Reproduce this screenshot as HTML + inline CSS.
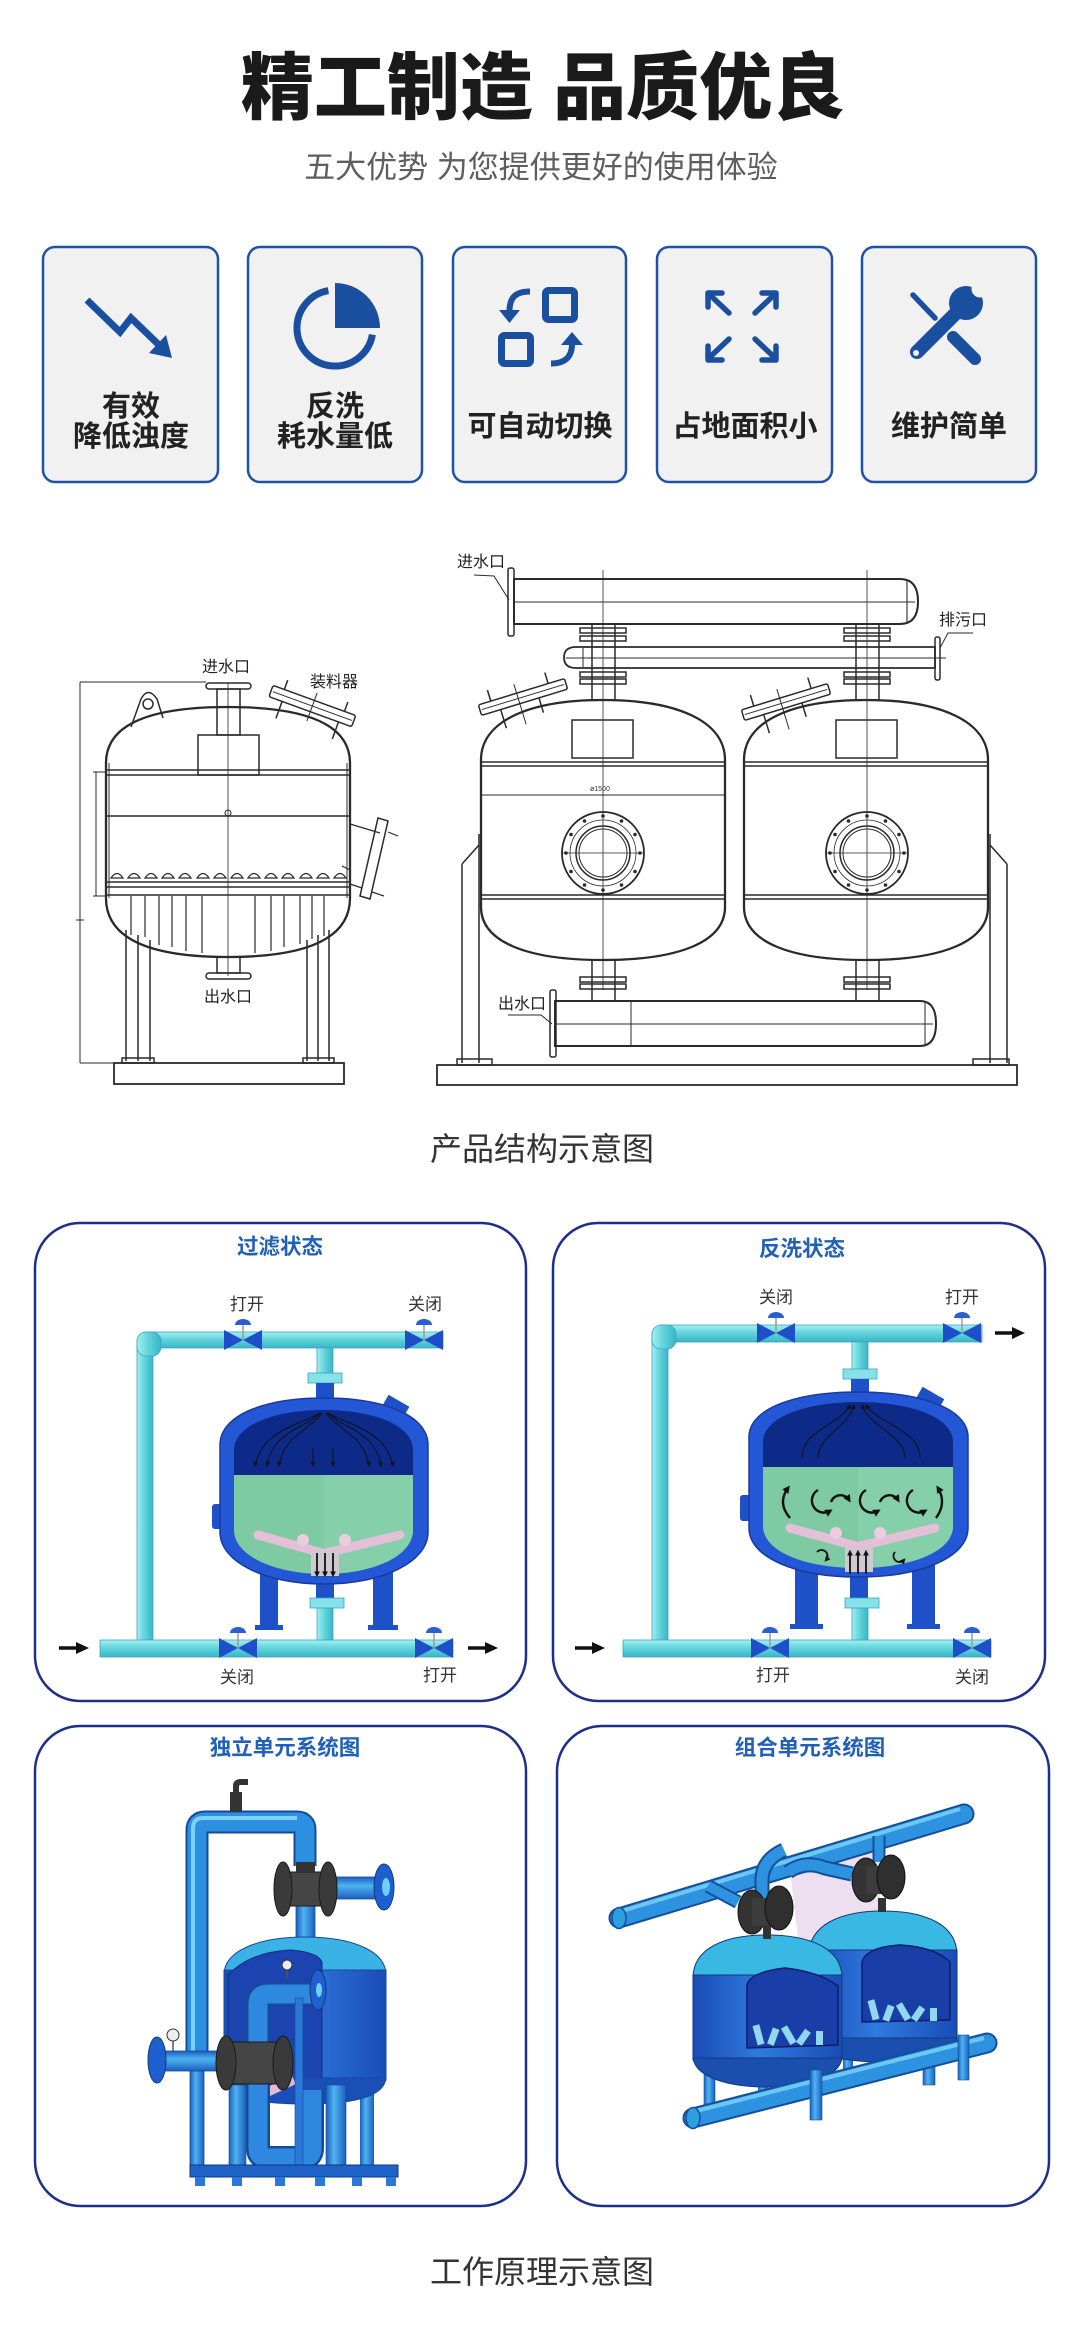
<!DOCTYPE html>
<html><head><meta charset="utf-8">
<style>
html,body{margin:0;padding:0;background:#fff;}
body{width:1080px;height:2347px;overflow:hidden;}
svg{display:block;}
</style></head>
<body>
<svg width="1080" height="2347" viewBox="0 0 1080 2347" xmlns="http://www.w3.org/2000/svg" font-family="'Liberation Sans','Noto Sans CJK SC',sans-serif">
<defs>
<linearGradient id="tqH" x1="0" y1="0" x2="0" y2="1"><stop offset="0" stop-color="#a6f0f2"/><stop offset="0.45" stop-color="#63d5dc"/><stop offset="1" stop-color="#3ab4c6"/></linearGradient>
<linearGradient id="tqV" x1="0" y1="0" x2="1" y2="0"><stop offset="0" stop-color="#a6f0f2"/><stop offset="0.45" stop-color="#63d5dc"/><stop offset="1" stop-color="#3ab4c6"/></linearGradient>
<linearGradient id="bpV" x1="0" y1="0" x2="1" y2="0"><stop offset="0" stop-color="#1a5fc0"/><stop offset="0.4" stop-color="#4fb3ef"/><stop offset="1" stop-color="#1a5fc0"/></linearGradient>
<linearGradient id="bpH" x1="0" y1="0" x2="0" y2="1"><stop offset="0" stop-color="#1a5fc0"/><stop offset="0.4" stop-color="#4fb3ef"/><stop offset="1" stop-color="#1a5fc0"/></linearGradient>
<linearGradient id="tank" x1="0" y1="0" x2="1" y2="0"><stop offset="0" stop-color="#1a4cb8"/><stop offset="0.45" stop-color="#2f7ade"/><stop offset="1" stop-color="#1a4cb8"/></linearGradient>
<marker id="ah" viewBox="0 0 10 10" refX="8" refY="5" markerWidth="5" markerHeight="5" orient="auto"><path d="M0,0 L10,5 L0,10 Z" fill="#111"/></marker>
<marker id="ah2" viewBox="0 0 10 10" refX="6" refY="5" markerWidth="3.2" markerHeight="3.2" orient="auto"><path d="M0,0 L10,5 L0,10 Z" fill="#111"/></marker>
</defs>

<!-- ===== Header ===== -->
<text x="543" y="113" text-anchor="middle" font-size="73" font-weight="900" fill="#1a1a1a">精工制造 品质优良</text>
<text x="541" y="178" text-anchor="middle" font-size="31" fill="#5e5e5e">五大优势 为您提供更好的使用体验</text>

<!-- ===== Feature cards ===== -->
<g fill="#f1f1f1" stroke="#1f52a6" stroke-width="2.5">
<rect x="43" y="247" width="175" height="235" rx="12"/>
<rect x="248" y="247" width="174" height="235" rx="12"/>
<rect x="453" y="247" width="173" height="235" rx="12"/>
<rect x="657" y="247" width="175" height="235" rx="12"/>
<rect x="862" y="247" width="174" height="235" rx="12"/>
</g>
<!-- icon 1 -->
<polyline points="87,300 120,332 131,318 158,344" fill="none" stroke="#1a4fa0" stroke-width="7"/>
<polygon points="172,358 149,353 166,335" fill="#1a4fa0"/>
<!-- icon 2 -->
<path d="M335,328 L335,283 A45,45 0 0 1 380,328 Z" fill="#1a4fa0"/>
<path d="M328.4,290.6 A38,38 0 1 0 372.4,334.6" fill="none" stroke="#1a4fa0" stroke-width="7"/>
<!-- icon 3 -->
<rect x="545.5" y="290.5" width="29" height="29" rx="3" fill="none" stroke="#1a4fa0" stroke-width="7"/>
<rect x="501.5" y="335.5" width="29" height="28" rx="3" fill="none" stroke="#1a4fa0" stroke-width="7"/>
<path d="M530,291.5 C515,291.5 509.5,298 509.5,311" fill="none" stroke="#1a4fa0" stroke-width="6"/>
<polygon points="499,310 520,310 509.5,323" fill="#1a4fa0"/>
<path d="M551,363.5 C566,363.5 572,356 572,344" fill="none" stroke="#1a4fa0" stroke-width="6"/>
<polygon points="561,345 583,345 572,332" fill="#1a4fa0"/>
<!-- icon 4 -->
<g fill="none" stroke="#1a4fa0" stroke-width="5.5" stroke-linecap="round" stroke-linejoin="round">
<path d="M729,313 L711,296 M708,307 L708,293 L722,293"/>
<path d="M755,313 L773,296 M762,293 L776,293 L776,307"/>
<path d="M729,339 L711,356 M708,346 L708,360 L722,360"/>
<path d="M755,339 L773,356 M776,346 L776,360 L762,360"/>
</g>
<!-- icon 5 -->
<g stroke="#1a4fa0" stroke-linecap="round">
<line x1="913" y1="295" x2="935" y2="318" stroke-width="5.5"/>
<line x1="953" y1="337" x2="975" y2="359" stroke-width="12"/>
<line x1="962" y1="307" x2="917" y2="352" stroke-width="14"/>
</g>
<circle cx="966" cy="303" r="17" fill="#1a4fa0"/>
<circle cx="980" cy="289" r="8.5" fill="#f1f1f1"/>
<polygon points="975,282 988,269 997,280 984,294" fill="#f1f1f1"/>
<circle cx="916" cy="353" r="3" fill="#f1f1f1"/>

<g font-size="29" font-weight="700" fill="#222" text-anchor="middle">
<text x="131" y="416">有效</text>
<text x="131" y="446">降低浊度</text>
<text x="335" y="416">反洗</text>
<text x="335" y="446">耗水量低</text>
<text x="540" y="436">可自动切换</text>
<text x="745" y="436">占地面积小</text>
<text x="949" y="436">维护简单</text>
</g>

<!-- ===== Technical drawings ===== -->
<g fill="none" stroke="#2a2a2a" stroke-width="1.5">
<path d="M80,682 L80,1063 M80,682 L206,682 M80,1063 L114,1063 M76,920 L84,920" stroke-width="1"/>
<path d="M96,772 L96,896 M93,772 L106,772 M93,896 L106,896" stroke-width="1"/>
<path d="M106,898 L106,763 Q106,707 228,707 Q350,707 350,763 L350,898 Q350,957 228,957 Q106,957 106,898 Z" stroke-width="2.3"/>
<path d="M109,763 L109,898 M347,763 L347,898" stroke-width="1"/>
<path d="M106,770 H350 M106,775 H350 M106,816 H350 M106,882 H350 M106,887 H350 M106,895 H350"/>
<line x1="228" y1="683" x2="228" y2="976" stroke-width="0.8"/>
<circle cx="228" cy="813" r="3" stroke-width="1"/>
<rect x="217" y="689" width="23" height="46"/>
<rect x="206" y="683" width="45" height="6" rx="3"/>
<rect x="198" y="735" width="61" height="40"/>
<path d="M131,727 L141,699 Q148,686 157,699 L163,718"/>
<circle cx="148" cy="704" r="5"/>
<g transform="rotate(20 312 707)">
<rect x="268" y="700" width="88" height="12" rx="2"/>
<line x1="270" y1="706" x2="354" y2="706" stroke-width="1"/>
<line x1="282" y1="712" x2="282" y2="730"/>
<line x1="342" y1="712" x2="342" y2="730"/>
<line x1="280" y1="700" x2="280" y2="690"/>
<line x1="344" y1="700" x2="344" y2="690"/>
<line x1="312" y1="692" x2="312" y2="722" stroke-width="1"/>
</g>
<path d="M378,818 L388,821 L370,899 L360,896 Z"/>
<path d="M350,824 L380,833 M350,884 L362,888 M388,832 L398,836 M372,892 L384,896 M342,866 L350,870" stroke-width="1.2"/>
<path d="M111,878 Q117,869 123,878 Z M128,878 Q134,869 140,878 Z M145,878 Q151,869 157,878 Z M162,878 Q168,869 174,878 Z M179,878 Q185,869 191,878 Z M197,878 Q203,869 209,878 Z M214,878 Q220,869 226,878 Z M231,878 Q237,869 243,878 Z M248,878 Q254,869 260,878 Z M265,878 Q271,869 277,878 Z M282,878 Q288,869 294,878 Z M300,878 Q306,869 312,878 Z M317,878 Q323,869 329,878 Z M334,878 Q340,869 346,878 Z" stroke-width="1.2"/>
<path d="M131,896 V935 M145,896 V937 M159,896 V945 M172,896 V947 M186,896 V951 M202,896 V953 M255,896 V953 M271,896 V951 M284,896 V947 M300,896 V944 M312,896 V939 M324,896 V936" stroke-width="1.2"/>
<path d="M126,930 V1061 M138,935 V1061 M150,940 V1061 M307,940 V1061 M318,935 V1061 M329,930 V1061"/>
<rect x="122" y="1058" width="32" height="5"/>
<rect x="303" y="1058" width="31" height="5"/>
<rect x="114" y="1063" width="230" height="21" stroke-width="1.8"/>
<rect x="217" y="957" width="23" height="16"/>
<rect x="206" y="973" width="45" height="6" rx="3"/>

<path d="M514,579 L900,579 Q918,579 918,601.5 Q918,624 900,624 L514,624 Z" stroke-width="2"/>
<path d="M514,602 H915 M907,580 V623" stroke-width="1.1"/>
<rect x="508" y="568" width="6" height="68" rx="2"/>
<path d="M474,575 L494,576 L509,600" stroke-width="1"/>
<path d="M576,647 L935,647 L935,668 L576,668 Q564,668 564,657.5 Q564,647 576,647 Z" stroke-width="1.8"/>
<path d="M566,658 H946 M583,648 V667" stroke-width="1"/>
<rect x="935" y="637" width="5" height="43" rx="2"/>
<path d="M940,648 L948,633 L973,633" stroke-width="1"/>
<rect x="592" y="624" width="23" height="76"/>
<rect x="856" y="624" width="23" height="76"/>
<path d="M580,628 h46 v5 h-46 z M580,636 h46 v5 h-46 z M580,672 h46 v5 h-46 z M580,679 h46 v5 h-46 z"/>
<path d="M844,628 h46 v5 h-46 z M844,636 h46 v5 h-46 z M844,672 h46 v5 h-46 z M844,679 h46 v5 h-46 z"/>
<path d="M603,570 V990 M867,570 V990" stroke-width="0.8"/>
<path d="M481,907 L481,760 C481,722 527,700 603,700 C679,700 725,722 725,760 L725,907 C725,942 679,960 603,960 C527,960 481,942 481,907 Z" stroke-width="2.3"/>
<path d="M744,907 L744,760 C744,722 790,700 866,700 C942,700 988,722 988,760 L988,907 C988,942 942,960 866,960 C790,960 744,942 744,907 Z" stroke-width="2.3"/>
<path d="M481,762 H725 M481,766 H725 M481,895 H725 M481,899 H725 M744,762 H988 M744,766 H988 M744,895 H988 M744,899 H988"/>
<path d="M481,795 H725" stroke-width="0.9"/>
<rect x="572" y="720" width="61" height="38"/>
<rect x="836" y="720" width="61" height="38"/>
<g transform="translate(603 853)">
<circle r="41" stroke-width="1.8"/><circle r="33" stroke-width="0.8"/><circle r="27"/><circle r="24" stroke-width="1"/>
<path d="M-41,0 H41" stroke-width="0.8"/>
<g fill="#2a2a2a" stroke="none"><circle cx="37" cy="0" r="1.8"/><circle cx="32" cy="18.5" r="1.8"/><circle cx="18.5" cy="32" r="1.8"/><circle cx="0" cy="37" r="1.8"/><circle cx="-18.5" cy="32" r="1.8"/><circle cx="-32" cy="18.5" r="1.8"/><circle cx="-37" cy="0" r="1.8"/><circle cx="-32" cy="-18.5" r="1.8"/><circle cx="-18.5" cy="-32" r="1.8"/><circle cx="0" cy="-37" r="1.8"/><circle cx="18.5" cy="-32" r="1.8"/><circle cx="32" cy="-18.5" r="1.8"/></g>
</g>
<g transform="translate(867 853)">
<circle r="41" stroke-width="1.8"/><circle r="33" stroke-width="0.8"/><circle r="27"/><circle r="24" stroke-width="1"/>
<path d="M-41,0 H41" stroke-width="0.8"/>
<g fill="#2a2a2a" stroke="none"><circle cx="37" cy="0" r="1.8"/><circle cx="32" cy="18.5" r="1.8"/><circle cx="18.5" cy="32" r="1.8"/><circle cx="0" cy="37" r="1.8"/><circle cx="-18.5" cy="32" r="1.8"/><circle cx="-32" cy="18.5" r="1.8"/><circle cx="-37" cy="0" r="1.8"/><circle cx="-32" cy="-18.5" r="1.8"/><circle cx="-18.5" cy="-32" r="1.8"/><circle cx="0" cy="-37" r="1.8"/><circle cx="18.5" cy="-32" r="1.8"/><circle cx="32" cy="-18.5" r="1.8"/></g>
</g>
<g transform="rotate(-17 523 697)">
<rect x="478" y="691.5" width="90" height="11" rx="2"/>
<line x1="480" y1="697" x2="566" y2="697" stroke-width="1"/>
<line x1="498" y1="702.5" x2="498" y2="722"/>
<line x1="538" y1="702.5" x2="538" y2="718"/>
<line x1="491" y1="691.5" x2="491" y2="680"/>
<line x1="551" y1="691.5" x2="551" y2="680"/>
<line x1="518" y1="682" x2="518" y2="724" stroke-width="1"/>
</g>
<g transform="rotate(-17 786 702)">
<rect x="741" y="696.5" width="90" height="11" rx="2"/>
<line x1="743" y1="702" x2="829" y2="702" stroke-width="1"/>
<line x1="761" y1="707.5" x2="761" y2="727"/>
<line x1="801" y1="707.5" x2="801" y2="722"/>
<line x1="754" y1="696.5" x2="754" y2="685"/>
<line x1="814" y1="696.5" x2="814" y2="685"/>
<line x1="781" y1="687" x2="781" y2="729" stroke-width="1"/>
</g>
<rect x="592" y="960" width="23" height="41"/>
<rect x="856" y="960" width="23" height="41"/>
<path d="M580,977 h46 v5 h-46 z M580,984 h46 v5 h-46 z M844,977 h46 v5 h-46 z M844,984 h46 v5 h-46 z"/>
<path d="M555,1001 L920,1001 Q936,1001 936,1023.5 Q936,1046 920,1046 L555,1046 Z" stroke-width="2"/>
<path d="M555,1024 H933 M631,1001 V1046 M925,1002 V1045" stroke-width="1"/>
<rect x="550" y="990" width="6" height="67" rx="2"/>
<path d="M508,1015 L541,1015 L552,1024" stroke-width="1"/>
<path d="M479,834 V1063 M462,864 V1063 M462,864 L479,845 M990,834 V1063 M1007,864 V1063 M1007,864 L990,845"/>
<rect x="457" y="1059" width="35" height="6"/>
<rect x="973" y="1059" width="36" height="6"/>
<rect x="437" y="1065" width="580" height="20" stroke-width="1.8"/>
</g>
<text x="590" y="791" font-size="7" fill="#333">ø1500</text>
<g font-size="16" fill="#222" text-anchor="middle">
<text x="226" y="672">进水口</text>
<text x="334" y="687">装料器</text>
<text x="228" y="1002">出水口</text>
<text x="481" y="567">进水口</text>
<text x="963" y="625">排污口</text>
<text x="522" y="1009">出水口</text>
</g>
<text x="542" y="1160" text-anchor="middle" font-size="32" fill="#333">产品结构示意图</text>

<!-- ===== Bottom cards ===== -->
<g fill="#fff" stroke="#1c2f8c" stroke-width="2.5">
<rect x="35" y="1223" width="491" height="478" rx="45"/>
<rect x="553" y="1223" width="492" height="478" rx="45"/>
<rect x="35" y="1726" width="491" height="480" rx="45"/>
<rect x="557" y="1726" width="492" height="480" rx="45"/>
</g>
<g font-size="21.5" font-weight="700" fill="#2060b8" text-anchor="middle">
<text x="280" y="1254">过滤状态</text>
<text x="802" y="1256">反洗状态</text>
<text x="285" y="1755">独立单元系统图</text>
<text x="810" y="1755">组合单元系统图</text>
</g>

<!-- Card 1 -->
<g stroke="#3aa6c2" stroke-width="0.8">
<rect x="137" y="1340" width="16" height="308" fill="url(#tqV)"/>
<rect x="145" y="1332" width="298" height="16" fill="url(#tqH)"/>
<rect x="137" y="1332" width="24" height="24" rx="9" fill="url(#tqV)"/>
<rect x="317" y="1348" width="16" height="28" fill="url(#tqV)"/>
<rect x="308" y="1373" width="34" height="10" fill="#86e2e6"/>
<rect x="100" y="1640" width="353" height="17" fill="url(#tqH)"/>
<rect x="317" y="1608" width="16" height="32" fill="url(#tqV)"/>
</g>
<g fill="#1e50c8">
<rect x="316" y="1383" width="18" height="20"/>
<rect x="260" y="1570" width="18" height="58"/><rect x="255" y="1625" width="28" height="5"/>
<rect x="373" y="1570" width="20" height="58"/><rect x="368" y="1625" width="30" height="5"/>
<rect x="316" y="1580" width="18" height="20"/>
<rect x="212" y="1504" width="11" height="25" rx="3"/>
<rect x="384" y="1400" width="24" height="12" transform="rotate(30 396 1406)"/>
</g>
<rect x="310" y="1598" width="34" height="10" fill="#86e2e6" stroke="#3aa6c2" stroke-width="0.8"/>
<path d="M220,1445 C220,1415 265,1398 324,1398 C383,1398 428,1415 428,1445 L428,1532 C428,1562 383,1584 324,1584 C265,1584 220,1562 220,1532 Z" fill="#2457d6" stroke="#1a3a9e" stroke-width="1.5"/>
<path d="M234,1475 L234,1450 C234,1425 275,1410 324,1410 C373,1410 413,1425 413,1450 L413,1475 Z" fill="#0e2a88"/>
<path d="M234,1475 L413,1475 L413,1530 C413,1556 373,1574 324,1574 C275,1574 234,1556 234,1530 Z" fill="#7dcaa3"/>
<path d="M324,1475 L413,1475 L413,1530 C413,1556 373,1574 324,1574 Z" fill="#86cfab"/>
<g fill="none" stroke="#111" stroke-width="1" marker-end="url(#ah)">
<path d="M320,1413 C300,1425 262,1430 255,1466"/>
<path d="M321,1413 C305,1428 272,1432 267,1466"/>
<path d="M322,1413 C310,1430 283,1436 279,1466"/>
<path d="M328,1413 C348,1425 386,1430 393,1466"/>
<path d="M327,1413 C343,1428 376,1432 381,1466"/>
<path d="M326,1413 C338,1430 365,1436 369,1466"/>
<path d="M313,1448 L313,1466"/>
<path d="M333,1448 L333,1466"/>
</g>
<g stroke="#e3c0d8" stroke-width="9" stroke-linecap="round">
<line x1="322" y1="1553" x2="258" y2="1535"/>
<line x1="326" y1="1553" x2="400" y2="1535"/>
</g>
<circle cx="303" cy="1540" r="6" fill="#ecccdf"/><circle cx="345" cy="1540" r="6" fill="#ecccdf"/>
<rect x="311" y="1550" width="28" height="26" fill="#cfc9d2"/>
<g fill="none" stroke="#111" stroke-width="1.8" marker-end="url(#ah2)">
<path d="M317,1553 V1575"/><path d="M325,1553 V1575"/><path d="M333,1553 V1575"/>
</g>

<!-- Card 2 -->
<g stroke="#3aa6c2" stroke-width="0.8">
<rect x="652" y="1333" width="16" height="315" fill="url(#tqV)"/>
<rect x="660" y="1325" width="322" height="17" fill="url(#tqH)"/>
<rect x="652" y="1325" width="24" height="24" rx="9" fill="url(#tqV)"/>
<rect x="852" y="1342" width="16" height="28" fill="url(#tqV)"/>
<rect x="843" y="1369" width="34" height="10" fill="#86e2e6"/>
<rect x="623" y="1640" width="368" height="17" fill="url(#tqH)"/>
<rect x="852" y="1608" width="16" height="32" fill="url(#tqV)"/>
</g>
<g fill="#1e50c8">
<rect x="851" y="1379" width="18" height="16"/>
<rect x="795" y="1565" width="23" height="61"/><rect x="790" y="1624" width="33" height="5"/>
<rect x="912" y="1565" width="23" height="61"/><rect x="907" y="1624" width="33" height="5"/>
<rect x="850" y="1577" width="18" height="21"/>
<rect x="740" y="1495" width="11" height="26" rx="3"/>
<rect x="918" y="1392" width="25" height="12" transform="rotate(30 930 1398)"/>
</g>
<rect x="845" y="1598" width="34" height="10" fill="#86e2e6" stroke="#3aa6c2" stroke-width="0.8"/>
<path d="M749,1437 C749,1408 797,1392 858,1392 C919,1392 968,1408 968,1437 L968,1528 C968,1558 919,1577 858,1577 C797,1577 749,1558 749,1528 Z" fill="#2457d6" stroke="#1a3a9e" stroke-width="1.5"/>
<path d="M763,1467 L763,1442 C763,1417 806,1402 858,1402 C910,1402 953,1417 953,1442 L953,1467 Z" fill="#0e2a88"/>
<path d="M763,1467 L953,1467 L953,1526 C953,1552 910,1568 858,1568 C806,1568 763,1552 763,1526 Z" fill="#7dcaa3"/>
<path d="M858,1467 L953,1467 L953,1526 C953,1552 910,1568 858,1568 Z" fill="#86cfab"/>
<g fill="none" stroke="#111" stroke-width="1" marker-end="url(#ah)">
<path d="M802,1458 C802,1430 840,1425 850,1405"/>
<path d="M818,1458 C818,1435 848,1428 854,1405"/>
<path d="M920,1458 C920,1430 880,1425 866,1405"/>
<path d="M905,1458 C905,1435 870,1428 862,1405"/>
</g>
<g stroke="#e3c0d8" stroke-width="9" stroke-linecap="round">
<line x1="856" y1="1546" x2="790" y2="1528"/>
<line x1="860" y1="1546" x2="935" y2="1528"/>
</g>
<circle cx="836" cy="1533" r="6" fill="#ecccdf"/><circle cx="880" cy="1533" r="6" fill="#ecccdf"/>
<rect x="845" y="1548" width="28" height="24" fill="#cfc9d2"/>
<g fill="none" stroke="#111" stroke-width="2.4" marker-end="url(#ah2)">
<path d="M790,1518 Q777,1503 788,1488"/>
<path d="M818,1490 A12,12 0 1 0 830,1511"/>
<path d="M831,1502 A10,10 0 0 1 849,1500"/>
<path d="M866,1490 A12,12 0 1 0 878,1511"/>
<path d="M880,1502 A10,10 0 0 1 898,1500"/>
<path d="M913,1490 A12,12 0 1 0 925,1511"/>
<path d="M936,1518 Q947,1503 938,1488"/>
</g>
<g fill="none" stroke="#111" stroke-width="1.8" marker-end="url(#ah2)">
<path d="M817,1552 A6,6 0 1 1 826,1560"/>
<path d="M895,1552 A6,6 0 1 0 904,1560"/>
<path d="M850,1574 V1552"/><path d="M858,1574 V1552"/><path d="M866,1574 V1552"/>
</g>

<!-- valves -->
<g fill="#1f4fc8">
<path d="M224,1330 L224,1350 L243,1340 Z M262,1330 L262,1350 L243,1340 Z"/>
<path d="M405,1330 L405,1350 L424,1340 Z M443,1330 L443,1350 L424,1340 Z"/>
<path d="M219,1638 L219,1658 L238,1648 Z M257,1638 L257,1658 L238,1648 Z"/>
<path d="M415,1638 L415,1658 L434,1648 Z M453,1638 L453,1658 L434,1648 Z"/>
<path d="M757,1323 L757,1343 L776,1333 Z M795,1323 L795,1343 L776,1333 Z"/>
<path d="M943,1323 L943,1343 L962,1333 Z M981,1323 L981,1343 L962,1333 Z"/>
<path d="M751,1638 L751,1658 L770,1648 Z M789,1638 L789,1658 L770,1648 Z"/>
<path d="M953,1638 L953,1658 L972,1648 Z M991,1638 L991,1658 L972,1648 Z"/>
</g>
<g stroke="#9a9a9a" stroke-width="1.5">
<path d="M243,1340 V1325 M424,1340 V1325 M238,1648 V1633 M434,1648 V1633 M776,1333 V1318 M962,1333 V1318 M770,1648 V1633 M972,1648 V1633"/>
</g>
<g fill="#2a5fd0">
<path d="M235,1325 A8,6 0 0 1 251,1325 Z"/><path d="M416,1325 A8,6 0 0 1 432,1325 Z"/>
<path d="M230,1633 A8,6 0 0 1 246,1633 Z"/><path d="M426,1633 A8,6 0 0 1 442,1633 Z"/>
<path d="M768,1318 A8,6 0 0 1 784,1318 Z"/><path d="M954,1318 A8,6 0 0 1 970,1318 Z"/>
<path d="M762,1633 A8,6 0 0 1 778,1633 Z"/><path d="M964,1633 A8,6 0 0 1 980,1633 Z"/>
</g>
<g stroke="#111" stroke-width="3.5"><path d="M59,1648 H78 M468,1648 H487 M575,1648 H594 M995,1333 H1014"/></g>
<g fill="#111"><polygon points="76,1642 89,1648 76,1654"/><polygon points="485,1642 498,1648 485,1654"/><polygon points="592,1642 605,1648 592,1654"/><polygon points="1012,1327 1025,1333 1012,1339"/></g>
<g font-size="17" fill="#333" text-anchor="middle">
<text x="247" y="1310">打开</text><text x="425" y="1310">关闭</text>
<text x="237" y="1683">关闭</text><text x="440" y="1681">打开</text>
<text x="776" y="1303">关闭</text><text x="962" y="1303">打开</text>
<text x="773" y="1681">打开</text><text x="972" y="1683">关闭</text>
</g>

<!-- Card 3 -->
<rect x="190" y="2060" width="14" height="110" fill="url(#bpV)" stroke="#164a9a" stroke-width="0.8"/>
<path d="M197,2060 L197,1830 Q197,1822 205,1822 L297,1822 Q305,1822 305,1830 L305,1866" fill="none" stroke="#164a9a" stroke-width="23" stroke-linejoin="round"/>
<path d="M197,2060 L197,1830 Q197,1822 205,1822 L297,1822 Q305,1822 305,1830 L305,1866" fill="none" stroke="#2c8fe0" stroke-width="19" stroke-linejoin="round"/>
<path d="M193,2060 L193,1828 Q193,1818 203,1818 L297,1818" fill="none" stroke="#7fd0f7" stroke-width="4"/>
<rect x="230" y="1792" width="12" height="20" fill="#333"/>
<path d="M236,1792 L236,1786 Q236,1782 241,1782 L248,1782" fill="none" stroke="#333" stroke-width="6"/>
<rect x="296" y="1905" width="19" height="36" fill="url(#bpV)" stroke="#164a9a" stroke-width="0.8"/>
<rect x="334" y="1877" width="46" height="22" fill="url(#bpH)" stroke="#164a9a" stroke-width="0.8"/>
<ellipse cx="384" cy="1887" rx="10" ry="23" fill="#1e5fd0" stroke="#123a7a"/>
<ellipse cx="386" cy="1887" rx="4" ry="9" fill="#6fd0f5"/>
<rect x="288" y="1872" width="36" height="34" fill="#454545" stroke="#1a1a1a"/>
<ellipse cx="283" cy="1889" rx="9" ry="27" fill="#3a3a3a" stroke="#1a1a1a"/>
<ellipse cx="328" cy="1889" rx="9" ry="27" fill="#3a3a3a" stroke="#1a1a1a"/>
<rect x="296" y="1862" width="19" height="10" fill="#333"/>
<rect x="360" y="2080" width="14" height="87" fill="url(#bpV)"/>
<path d="M224,1975 C224,1950 260,1937 305,1937 C350,1937 386,1950 386,1975 Z" fill="#3ab2e6" stroke="#164a9a"/>
<rect x="224" y="1970" width="162" height="110" fill="url(#tank)" stroke="#164a9a"/>
<path d="M228,2078 L228,1975 Q250,1952 290,1950 Q318,1952 322,1962 L322,2078 Z" fill="#1c44b0" stroke="#0f2f80"/>
<path d="M224,2078 C226,2098 260,2104 305,2104 C350,2104 384,2098 386,2078 Z" fill="#1a4fb8" stroke="#164a9a"/>
<path d="M265,2088 L292,2076 L296,2084 L270,2096 Z" fill="#e5b8d8"/>
<rect x="229" y="2085" width="17" height="82" fill="url(#bpV)" stroke="#164a9a" stroke-width="0.6"/>
<rect x="326" y="2085" width="20" height="82" fill="url(#bpV)" stroke="#164a9a" stroke-width="0.6"/>
<path d="M318,1994 L268,1994 Q258,1994 258,2004 L258,2148 Q258,2158 268,2158 L302,2158 Q312,2158 312,2148 L312,2090" fill="none" stroke="#164a9a" stroke-width="24"/>
<path d="M318,1994 L268,1994 Q258,1994 258,2004 L258,2148 Q258,2158 268,2158 L302,2158 Q312,2158 312,2148 L312,2090" fill="none" stroke="#2f88e0" stroke-width="19"/>
<rect x="295" y="1998" width="8" height="168" fill="#2a78d8" stroke="#164a9a" stroke-width="0.6"/>
<ellipse cx="318" cy="1990" rx="8" ry="20" fill="#1f5fd0" stroke="#123a7a"/>
<ellipse cx="319" cy="1990" rx="3" ry="7" fill="#6fd0f5"/>
<rect x="156" y="2051" width="70" height="20" fill="url(#bpH)" stroke="#164a9a" stroke-width="0.8"/>
<ellipse cx="157" cy="2060" rx="9" ry="23" fill="#1e5fd0" stroke="#123a7a"/>
<rect x="230" y="2042" width="50" height="42" fill="#454545" stroke="#1a1a1a"/>
<ellipse cx="226" cy="2063" rx="10" ry="27" fill="#3a3a3a" stroke="#1a1a1a"/>
<ellipse cx="283" cy="2063" rx="10" ry="27" fill="#3a3a3a" stroke="#1a1a1a"/>
<path d="M173,2051 V2040 M287,1978 V1970" stroke="#555" stroke-width="1.5"/>
<circle cx="173" cy="2035" r="6" fill="#eee" stroke="#333"/>
<circle cx="287" cy="1965" r="5" fill="#eee" stroke="#333"/>
<rect x="190" y="2165" width="208" height="12" fill="#1f62c8" stroke="#123a7a"/>
<g fill="#2a78d8"><rect x="195" y="2177" width="10" height="9"/><rect x="232" y="2177" width="10" height="9"/><rect x="275" y="2177" width="10" height="9"/><rect x="315" y="2177" width="10" height="9"/><rect x="352" y="2177" width="10" height="9"/><rect x="386" y="2177" width="10" height="9"/></g>

<!-- Card 4 -->
<polygon points="790,1870 880,1848 880,1935 800,1955" fill="#eddff0"/>
<line x1="619" y1="1918" x2="964" y2="1814" stroke="#154f9c" stroke-width="21" stroke-linecap="round"/>
<line x1="619" y1="1918" x2="964" y2="1814" stroke="#2d93e0" stroke-width="17" stroke-linecap="round"/>
<line x1="622" y1="1911" x2="960" y2="1809" stroke="#6cc8f3" stroke-width="4"/>
<ellipse cx="619" cy="1918" rx="7" ry="10.5" fill="#2aa0e0" stroke="#154f9c" stroke-width="1.5"/>
<path d="M879,1836 V1862" stroke="#154f9c" stroke-width="13"/><path d="M879,1836 V1862" stroke="#2d93e0" stroke-width="9"/>
<path d="M784,1850 Q762,1860 762,1880 L762,1898" fill="none" stroke="#154f9c" stroke-width="15"/>
<path d="M784,1850 Q762,1860 762,1880 L762,1898" fill="none" stroke="#2d93e0" stroke-width="11"/>
<path d="M788,1872 Q805,1860 825,1868 L852,1874" fill="none" stroke="#154f9c" stroke-width="15"/>
<path d="M788,1872 Q805,1860 825,1868 L852,1874" fill="none" stroke="#2d93e0" stroke-width="11"/>
<path d="M708,1886 L738,1902" stroke="#154f9c" stroke-width="14"/><path d="M708,1886 L738,1902" stroke="#2d93e0" stroke-width="10"/>
<rect x="923" y="2030" width="12" height="55" fill="url(#bpV)" stroke="#154f9c" stroke-width="0.6"/>
<rect x="843" y="2050" width="10" height="30" fill="url(#bpV)"/>
<path d="M809,1955 C809,1925 840,1911 883,1911 C926,1911 957,1925 957,1955 Z" fill="#3ab8e4" stroke="#123a7a"/>
<rect x="809" y="1950" width="148" height="90" fill="url(#tank)" stroke="#123a7a"/>
<path d="M809,2038 C812,2055 845,2062 883,2062 C921,2062 954,2055 957,2038 Z" fill="#1a4fb0" stroke="#123a7a"/>
<path d="M862,2022 L862,1962 Q866,1947 900,1945 Q935,1947 950,1962 L950,2020 Z" fill="#1a3ea8" stroke="#0a1f66" stroke-width="1.5"/>
<g fill="#8fd8f0"><rect x="870" y="2000" width="7" height="20" transform="rotate(-15 873 2010)"/><rect x="885" y="2005" width="7" height="16" transform="rotate(20 888 2013)"/><rect x="900" y="2003" width="7" height="18" transform="rotate(-30 903 2012)"/><rect x="915" y="2006" width="7" height="15" transform="rotate(35 918 2013)"/><rect x="930" y="2008" width="7" height="13"/></g>
<rect x="704" y="2065" width="11" height="50" fill="url(#bpV)" stroke="#154f9c" stroke-width="0.6"/>
<rect x="758" y="2080" width="10" height="22" fill="url(#bpV)"/>
<path d="M693,1978 C693,1948 725,1935 767,1935 C809,1935 842,1948 842,1978 Z" fill="#3ab8e4" stroke="#123a7a"/>
<rect x="693" y="1975" width="149" height="85" fill="url(#tank)" stroke="#123a7a"/>
<path d="M693,2058 C696,2078 730,2087 767,2087 C804,2087 839,2078 842,2058 Z" fill="#1a4fb0" stroke="#123a7a"/>
<path d="M747,2048 L747,1985 Q750,1972 785,1968 Q820,1972 838,1986 L838,2045 Z" fill="#1a3ea8" stroke="#0a1f66" stroke-width="1.5"/>
<g fill="#8fd8f0"><rect x="755" y="2025" width="7" height="20" transform="rotate(-15 758 2035)"/><rect x="770" y="2028" width="7" height="17" transform="rotate(20 773 2036)"/><rect x="785" y="2026" width="7" height="19" transform="rotate(-30 788 2035)"/><rect x="800" y="2029" width="7" height="16" transform="rotate(35 803 2037)"/><rect x="816" y="2031" width="7" height="14"/></g>
<ellipse cx="780" cy="2093" rx="10" ry="5" fill="#3ab8e4" stroke="#123a7a"/>
<ellipse cx="895" cy="2066" rx="10" ry="5" fill="#3ab8e4" stroke="#123a7a"/>
<line x1="693" y1="2118" x2="987" y2="2043" stroke="#154f9c" stroke-width="21" stroke-linecap="round"/>
<line x1="693" y1="2118" x2="987" y2="2043" stroke="#2d93e0" stroke-width="17" stroke-linecap="round"/>
<line x1="696" y1="2111" x2="984" y2="2038" stroke="#6cc8f3" stroke-width="4"/>
<ellipse cx="693" cy="2118" rx="7" ry="10.5" fill="#2aa0e0" stroke="#154f9c" stroke-width="1.5"/>
<rect x="810" y="2070" width="12" height="50" fill="url(#bpV)" stroke="#154f9c" stroke-width="0.6"/>
<rect x="958" y="2035" width="11" height="45" fill="url(#bpV)" stroke="#154f9c" stroke-width="0.6"/>
<rect x="763" y="1925" width="8" height="14" fill="#333"/>
<ellipse cx="752" cy="1912" rx="14" ry="22" fill="#333" stroke="#111"/>
<rect x="752" y="1898" width="26" height="28" fill="#3c3c3c"/>
<ellipse cx="779" cy="1908" rx="14" ry="22" fill="#2f2f2f" stroke="#111"/>
<rect x="878" y="1898" width="8" height="14" fill="#333"/>
<ellipse cx="866" cy="1880" rx="14" ry="22" fill="#333" stroke="#111"/>
<rect x="866" y="1866" width="24" height="28" fill="#3c3c3c"/>
<ellipse cx="891" cy="1877" rx="14" ry="22" fill="#2f2f2f" stroke="#111"/>

<text x="542" y="2283" text-anchor="middle" font-size="32" fill="#333">工作原理示意图</text>
</svg>
</body></html>
